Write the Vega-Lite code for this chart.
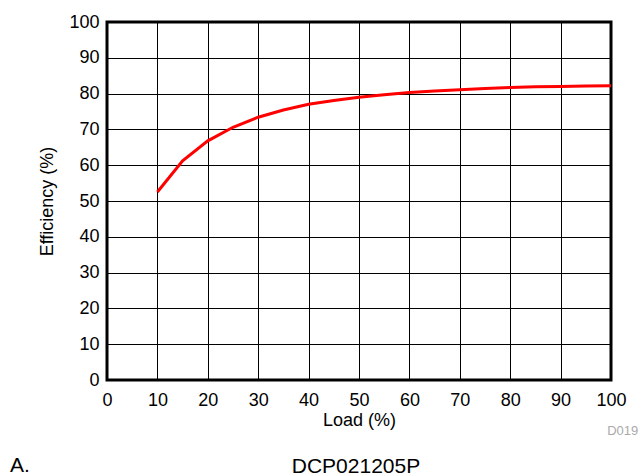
{
  "$schema": "https://vega.github.io/schema/vega-lite/v6.json",
  "width": 504,
  "height": 358,
  "autosize": "none",
  "padding": {"left": 107, "top": 22, "right": 30, "bottom": 96},
  "background": "white",
  "config": {
    "font": "Liberation Sans",
    "view": {"stroke": "black", "strokeWidth": 3},
    "axis": {
      "domain": false,
      "ticks": false,
      "grid": true,
      "gridColor": "black",
      "gridOpacity": 1,
      "gridWidth": 1,
      "labelFont": "Liberation Sans",
      "labelFontSize": 18,
      "labelColor": "black",
      "labelOverlap": false,
      "labelFlush": false,
      "titleFont": "Liberation Sans",
      "titleFontSize": 18,
      "titleFontWeight": "normal",
      "titleColor": "black"
    },
    "axisX": {"labelPadding": 11, "titlePadding": 2},
    "axisY": {"labelPadding": 8, "titlePadding": 12}
  },
  "layer": [
    {
      "data": {
        "values": [
          {"load": 10, "eff": 52.5},
          {"load": 15, "eff": 61.2},
          {"load": 20, "eff": 66.8},
          {"load": 25, "eff": 70.6},
          {"load": 30, "eff": 73.4},
          {"load": 35, "eff": 75.4},
          {"load": 40, "eff": 77.0},
          {"load": 45, "eff": 78.1},
          {"load": 50, "eff": 79.0},
          {"load": 55, "eff": 79.7},
          {"load": 60, "eff": 80.3},
          {"load": 65, "eff": 80.7},
          {"load": 70, "eff": 81.1},
          {"load": 75, "eff": 81.4},
          {"load": 80, "eff": 81.7},
          {"load": 85, "eff": 81.9},
          {"load": 90, "eff": 82.0},
          {"load": 95, "eff": 82.1},
          {"load": 100, "eff": 82.2}
        ]
      },
      "mark": {"type": "line", "color": "#ff0000", "strokeWidth": 3, "clip": true},
      "encoding": {
        "x": {
          "field": "load",
          "type": "quantitative",
          "title": "Load (%)",
          "scale": {"domain": [0, 100], "nice": false},
          "axis": {"values": [0, 10, 20, 30, 40, 50, 60, 70, 80, 90, 100]}
        },
        "y": {
          "field": "eff",
          "type": "quantitative",
          "title": "Efficiency (%)",
          "scale": {"domain": [0, 100], "nice": false},
          "axis": {"values": [0, 10, 20, 30, 40, 50, 60, 70, 80, 90, 100]}
        }
      }
    },
    {
      "data": {
        "values": [
          {"label": "A.", "lx": -17.3, "ly": -25.6},
          {"label": "DCP021205P", "lx": 49.4, "ly": -26.0}
        ]
      },
      "mark": {"type": "text", "align": "center", "baseline": "alphabetic", "fontSize": 21, "fontWeight": "normal", "font": "Liberation Sans", "color": "black", "clip": false},
      "encoding": {
        "text": {"field": "label", "type": "nominal"},
        "x": {"field": "lx", "type": "quantitative", "title": "Load (%)", "axis": {"values": [0, 10, 20, 30, 40, 50, 60, 70, 80, 90, 100]}},
        "y": {"field": "ly", "type": "quantitative", "title": "Efficiency (%)", "axis": {"values": [0, 10, 20, 30, 40, 50, 60, 70, 80, 90, 100]}}
      }
    },
    {
      "data": {"values": [{"label": "D019", "lx": 105.4, "ly": -15.4}]},
      "mark": {"type": "text", "align": "right", "baseline": "alphabetic", "fontSize": 13, "fontWeight": "normal", "font": "Liberation Sans", "color": "#aaaaaa", "clip": false},
      "encoding": {
        "text": {"field": "label", "type": "nominal"},
        "x": {"field": "lx", "type": "quantitative", "title": "Load (%)", "axis": {"values": [0, 10, 20, 30, 40, 50, 60, 70, 80, 90, 100]}},
        "y": {"field": "ly", "type": "quantitative", "title": "Efficiency (%)", "axis": {"values": [0, 10, 20, 30, 40, 50, 60, 70, 80, 90, 100]}}
      }
    }
  ]
}
